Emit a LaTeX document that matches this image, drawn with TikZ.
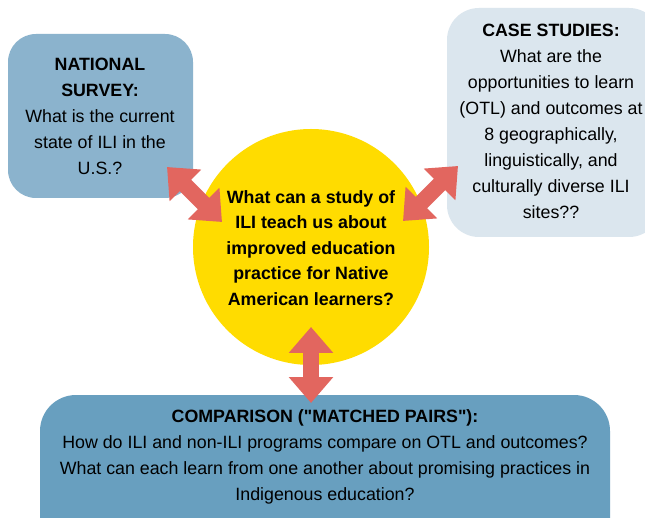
\documentclass[tikz,border=0pt]{standalone}
\usepackage{fontspec}
\setmainfont{Liberation Sans}[Ligatures=TeXOff]
\usetikzlibrary{arrows.meta}
\definecolor{boxA}{HTML}{8BB3CD}
\definecolor{boxB}{HTML}{DBE6EE}
\definecolor{boxC}{HTML}{689FBF}
\definecolor{sun}{HTML}{FFDC00}
\definecolor{arr}{HTML}{E2665F}
\begin{document}
\begin{tikzpicture}[x=1pt,y=-1pt,
  txt/.style={align=center, font=\fontsize{17.8}{26}\selectfont, inner sep=0pt, text=black},
  panel/.style={rounded corners=#1, inner sep=0pt, draw=none},
  dbl/.style={draw=arr, line width=16pt,
    {Triangle[width=43pt,length=26pt]}-{Triangle[width=43pt,length=26pt]}}
]
\clip (0,0) rectangle (645,518);
\fill[white] (0,0) rectangle (645,518);
% panels
\node[panel=28pt, fill=boxA, minimum width=185pt, minimum height=164pt] (survey) at (100.5,116) {};
\node[panel=32pt, fill=boxB, minimum width=214pt, minimum height=229pt] (cases) at (554,122.5) {};
\node[panel=36pt, fill=boxC, minimum width=570pt, minimum height=170pt] (compare) at (325,480) {};
\node[circle, fill=sun, minimum size=236pt, inner sep=0pt] (core) at (311,247) {};
% texts
\node[txt] (surveyT) at (100,116) {\textbf{NATIONAL}\\\textbf{SURVEY:}\\What is the current\\state of ILI in the\\U.S.?};
\node[txt] (casesT) at (551,121) {\textbf{CASE STUDIES:}\\What are the\\opportunities to learn\\(OTL) and outcomes at\\8 geographically,\\linguistically, and\\culturally diverse ILI\\sites??};
\node[txt, font=\fontsize{17.8}{25.5}\selectfont\bfseries] (coreT) at (311,248) {What can a study of\\ILI teach us about\\improved education\\practice for Native\\American learners?};
\node[txt] (compareT) at (325,457) {\textbf{COMPARISON ("MATCHED PAIRS"):}\\How do ILI and non-ILI programs compare on OTL and outcomes?\\What can each learn from one another about promising practices in\\Indigenous education?};
% arrow ends
\coordinate (a1) at (167,167);
\coordinate (a2) at (222,222);
\coordinate (b1) at (403,221);
\coordinate (b2) at (458,166);
\coordinate (c1) at (311,327);
\coordinate (c2) at (311,403);
\draw[dbl] (a1) -- (a2);
\draw[dbl] (b1) -- (b2);
\draw[dbl] (c1) -- (c2);
\end{tikzpicture}
\end{document}
